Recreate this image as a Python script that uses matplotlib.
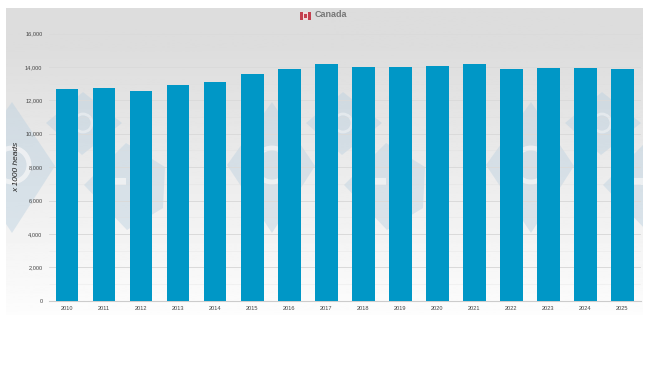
import numpy as np
import matplotlib
matplotlib.use('Agg')
import matplotlib.pyplot as plt
from matplotlib.patches import Polygon, Rectangle, Circle

years = ['2010', '2011', '2012', '2013', '2014', '2015', '2016', '2017',
         '2018', '2019', '2020', '2021', '2022', '2023', '2024', '2025']
heads = [12680, 12740, 12575, 12920, 13100, 13580, 13880, 14175,
         13995, 14000, 14055, 14155, 13860, 13935, 13935, 13850]
y_ticks = [0, 2000, 4000, 6000, 8000, 10000, 12000, 14000, 16000]
y_minor = [1000, 3000, 5000, 7000, 9000, 11000, 13000, 15000]

W, H = 650, 366
fig = plt.figure(figsize=(W / 100, H / 100), dpi=100, facecolor='white')

# background panel, in pixel coordinates
bg = fig.add_axes([0, 0, 1, 1], zorder=0)
bg.axis('off')
grad = np.interp(np.linspace(0, 1, 300), [0, 0.12, 1], [0.865, 0.865, 0.99])
panel = bg.imshow(grad[:, None], cmap='gray', vmin=0, vmax=1, extent=[6, 643, 315, 8], aspect='auto')
bg.set_xlim(0, W)
bg.set_ylim(H, 0)
clip = Rectangle((6, 8), 637, 307, transform=bg.transData)

# watermark logo, repeated across the panel
wm = '#b8cfe0'
for dx in [-260, 0, 259]:
    big = Polygon([(272 + dx, 102), (315 + dx, 166), (272 + dx, 233), (227 + dx, 165)], fc=wm, ec='none', alpha=0.42)
    small = Polygon([(343 + dx, 92), (382 + dx, 123), (342 + dx, 155), (306 + dx, 123)], fc=wm, ec='none', alpha=0.42)
    low = Polygon([(344 + dx, 185), (386 + dx, 143), (425 + dx, 167), (423 + dx, 208),
                   (387 + dx, 230)], fc=wm, ec='none', alpha=0.42)
    ring = Circle((272 + dx, 165), 17, fc='none', ec='#f0f2f4', lw=3.5, alpha=0.9)
    ring2 = Circle((343 + dx, 123), 9, fc='none', ec='#e9edf0', lw=2, alpha=0.8)
    cut = Rectangle((368 + dx, 178), 18, 7, fc='#f0f2f4', ec='none', alpha=0.9)
    for p in [big, small, low, ring, ring2, cut]:
        bg.add_patch(p)
        p.set_clip_path(clip)

# flag
bg.add_patch(Rectangle((299.5, 11.5), 11.5, 8.5, facecolor='#c4404f', edgecolor='none'))
bg.add_patch(Rectangle((303, 11.5), 4.5, 8.5, facecolor='#f0dcdc', edgecolor='none'))
bg.add_patch(Rectangle((304, 14), 2.5, 4, facecolor='#c4404f', edgecolor='none'))
bg.text(315, 14.5, 'Canada', fontsize=6.5, fontweight='bold', color='#777777',
        family='Liberation Sans', va='center', ha='left')

ax = fig.add_axes([48.7 / W, 1 - 300.7 / H, 592.3 / W, 267.2 / H], zorder=1)
ax.patch.set_alpha(0)
x = np.arange(len(years))
ax.set_axisbelow(True)
ax.hlines(y_minor, -0.5, len(years) - 0.5, color='#dddddd', lw=0.4, alpha=0.5, zorder=1)
ax.grid(axis='y', color='#dadada', lw=0.7, zorder=1)
ax.bar(x, heads, width=0.605, color='#0097c6', edgecolor='none', zorder=3)
ax.set_xlim(-0.5, len(years) - 0.5)
ax.set_ylim(0, 16000)
ax.set_yticks(y_ticks)
ax.set_yticklabels([f'{v:,}' for v in y_ticks], family='Liberation Sans')
ax.set_xticks(x)
ax.set_xticklabels(years, family='Liberation Sans')
ax.tick_params(axis='both', length=0, labelsize=4.1, labelcolor='#444444')
ax.tick_params(axis='x', pad=3.5)
ax.tick_params(axis='y', pad=4.5)
for s in ['top', 'right', 'left']:
    ax.spines[s].set_visible(False)
ax.spines['bottom'].set_color('#cccccc')
ax.spines['bottom'].set_linewidth(0.8)

bg.text(17, 167, 'x 1000 heads', rotation=90, fontsize=6, style='italic', color='#222222',
        family='Liberation Sans', va='center', ha='center')

fig.savefig('out.png', dpi=100)
